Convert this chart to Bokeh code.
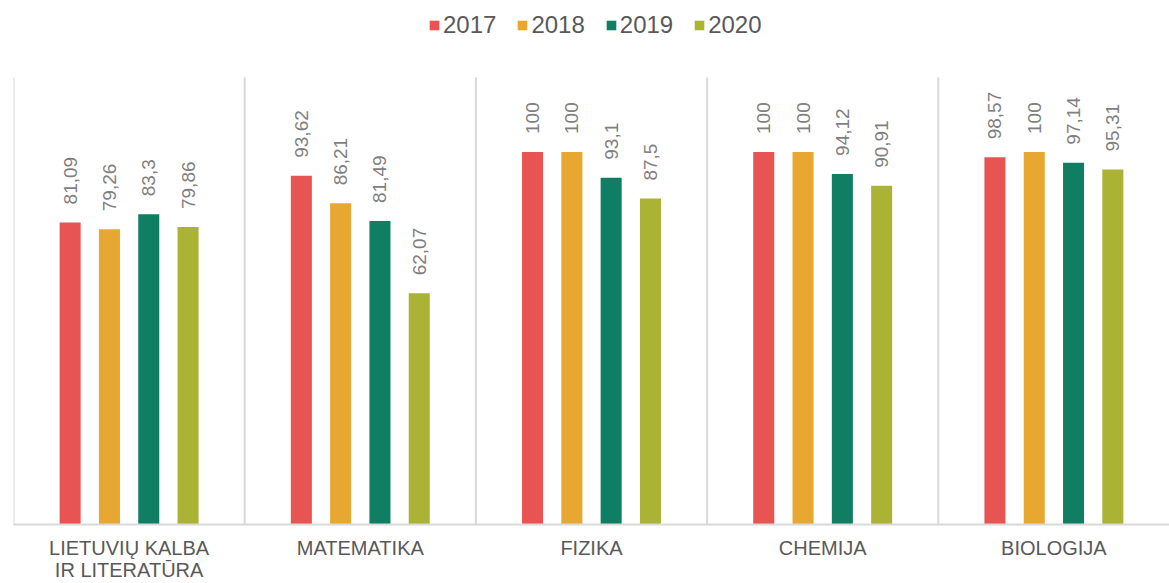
from bokeh.plotting import figure
from bokeh.models import Range1d, FixedTicker, ColumnDataSource, Legend, LegendItem
from bokeh.core.properties import value
from bokeh.embed import file_html
from bokeh.resources import INLINE
import math

categories = ["LIETUVIŲ KALBA\nIR LITERATŪRA", "MATEMATIKA", "FIZIKA", "CHEMIJA", "BIOLOGIJA"]
years = ["2017", "2018", "2019", "2020"]
v2017 = [81.09, 93.62, 100, 100, 98.57]
v2018 = [79.26, 86.21, 100, 100, 100]
v2019 = [83.3, 81.49, 93.1, 94.12, 97.14]
v2020 = [79.86, 62.07, 87.5, 90.91, 95.31]
series = [v2017, v2018, v2019, v2020]
colors = ["#E75452", "#E8A730", "#107E62", "#AAB334"]
offsets = [-0.255, -0.085, 0.085, 0.255]
bar_width = 0.091
FONT = "Liberation Sans"

Y_AXIS_MAX = 120
FRAME_H = 524
PLOT_TOP = 77
y_view_max = Y_AXIS_MAX * FRAME_H / (FRAME_H - PLOT_TOP)

p = figure(width=1169, height=583, output_backend="svg", toolbar_location=None,
           x_range=Range1d(0, len(categories)), y_range=Range1d(0, y_view_max),
           min_border_left=13, min_border_right=0, min_border_top=0, min_border_bottom=59)
p.outline_line_color = None
p.background_fill_color = "white"
p.border_fill_color = "white"
p.xgrid.visible = False
p.ygrid.visible = False

# category dividers
n = len(categories)
p.segment(x0=list(range(n)), x1=list(range(n)), y0=[0] * n, y1=[Y_AXIS_MAX] * n,
          line_color="#D9D9D9", line_width=2)

centers = [i + 0.5 for i in range(n)]
items = []
for yr, vals, col, off in zip(years, series, colors, offsets):
    src = ColumnDataSource(dict(x=[c + off for c in centers], top=vals,
                                lab=[f"{v:g}".replace(".", ",") for v in vals]))
    r = p.vbar(x="x", top="top", width=bar_width, source=src, fill_color=col, line_color=None)
    p.text(x="x", y="top", text="lab", source=src, angle=math.pi / 2, text_align="left",
           text_baseline="middle", y_offset=-18, text_color="#7F7F7F",
           text_font=value(FONT), text_font_size="19px")
    items.append(LegendItem(label=yr, renderers=[r]))

p.yaxis.visible = False

ax = p.xaxis[0]
ax.ticker = FixedTicker(ticks=centers)
ax.major_label_overrides = {c: lab for c, lab in zip(centers, categories)}
ax.axis_line_color = "#D9D9D9"
ax.axis_line_width = 2
ax.major_tick_line_color = None
ax.minor_tick_line_color = None
ax.major_label_text_color = "#595959"
ax.major_label_text_font = FONT
ax.major_label_text_font_size = "20px"
ax.major_label_text_line_height = 1.0
ax.major_label_standoff = 6

legend = Legend(items=items, orientation="horizontal", location=(415, 485),
                label_text_font=FONT, label_text_font_size="24px", label_text_color="#595959",
                glyph_width=12, glyph_height=12, label_standoff=3, spacing=20,
                border_line_color=None, background_fill_alpha=0, padding=0, margin=0)
p.add_layout(legend, "center")

open("out.html", "w").write(file_html(p, INLINE))
